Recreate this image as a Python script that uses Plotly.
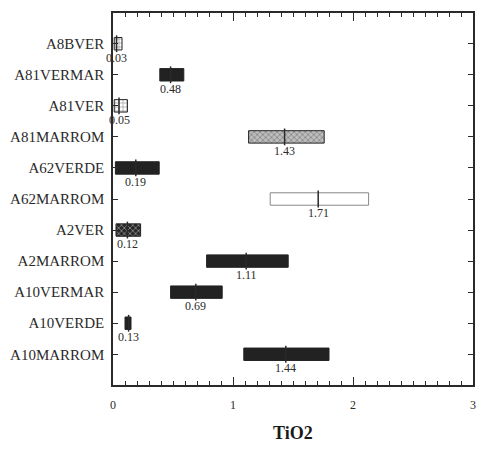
import plotly.graph_objects as go

categories = ["A8BVER", "A81VERMAR", "A81VER", "A81MARROM", "A62VERDE", "A62MARROM",
              "A2VER", "A2MARROM", "A10VERMAR", "A10VERDE", "A10MARROM"]
low = [0.01, 0.39, 0.01, 1.13, 0.02, 1.31, 0.025, 0.78, 0.48, 0.10, 1.09]
high = [0.075, 0.59, 0.12, 1.76, 0.385, 2.13, 0.23, 1.46, 0.91, 0.15, 1.80]
median = [0.03, 0.48, 0.05, 1.43, 0.19, 1.71, 0.12, 1.11, 0.69, 0.13, 1.44]
median_labels = ["0.03", "0.48", "0.05", "1.43", "0.19", "1.71", "0.12", "1.11", "0.69", "0.13", "1.44"]

# styles
fill = ["#ffffff", "#222222", "#ffffff", "#bdbdbd", "#222222", "#ffffff",
        "#262626", "#222222", "#222222", "#222222", "#222222"]
pat_shape = ["+", "", "+", "x", "", "", "x", "", "", "", ""]
pat_fg = ["#333333", "#222222", "#333333", "#555555", "#222222", "#ffffff",
          "#9a9a9a", "#222222", "#222222", "#222222", "#222222"]
border = ["#222222", "#222222", "#222222", "#222222", "#222222", "#888888",
          "#222222", "#222222", "#222222", "#222222", "#222222"]

serif = "Liberation Serif, Times New Roman, serif"
ink = "#2a2a2a"

fig = go.Figure()
fig.add_trace(go.Bar(
    y=categories,
    x=[h - l for h, l in zip(high, low)],
    base=low,
    orientation="h",
    width=0.4,
    marker=dict(
        color=fill,
        line=dict(color=border, width=1),
        pattern=dict(shape=pat_shape, fgcolor=pat_fg, fillmode="overlay", size=4, solidity=0.35),
    ),
    showlegend=False,
    hoverinfo="skip",
))
fig.add_trace(go.Scatter(
    y=categories, x=median, mode="markers",
    marker=dict(symbol="line-ns-open", size=12, color=ink, line=dict(color=ink, width=1.5)),
    showlegend=False, hoverinfo="skip",
))

for c, m, t in zip(categories, median, median_labels):
    fig.add_annotation(x=m, y=c, text=t, showarrow=False, yshift=-14,
                       font=dict(family=serif, size=12, color=ink))

fig.add_annotation(x=0.5, y=0, xref="paper", yref="paper", yanchor="top", yshift=-36,
                   text="<b>TiO2</b>", showarrow=False,
                   font=dict(family=serif, size=18, color="#1a1a1a"))

fig.update_layout(
    template="none",
    width=477, height=461,
    margin=dict(l=113, r=4, t=13, b=76),
    paper_bgcolor="white", plot_bgcolor="white",
    font=dict(family=serif, size=12, color=ink),
    xaxis=dict(range=[0, 3], tickvals=[0, 1, 2, 3], ticktext=["0", "1", "2", "3"],
               ticks="inside", ticklen=8, tickcolor=ink, showline=True,
               linecolor=ink, linewidth=1.5, mirror="ticks", showgrid=False,
               zeroline=False, ticklabelstandoff=8,
               minor=dict(dtick=0.1, ticks="inside", ticklen=4, tickcolor=ink, showgrid=False),
               tickfont=dict(family=serif, size=12, color=ink)),
    yaxis=dict(categoryorder="array", categoryarray=categories, range=[10.99, -0.99],
               ticks="inside", ticklen=5, tickcolor=ink, showline=True,
               linecolor=ink, linewidth=1.5, mirror="ticks", showgrid=False,
               zeroline=False, ticklabelstandoff=4,
               tickfont=dict(family=serif, size=15, color=ink)),
)

fig.write_html("out.html")
